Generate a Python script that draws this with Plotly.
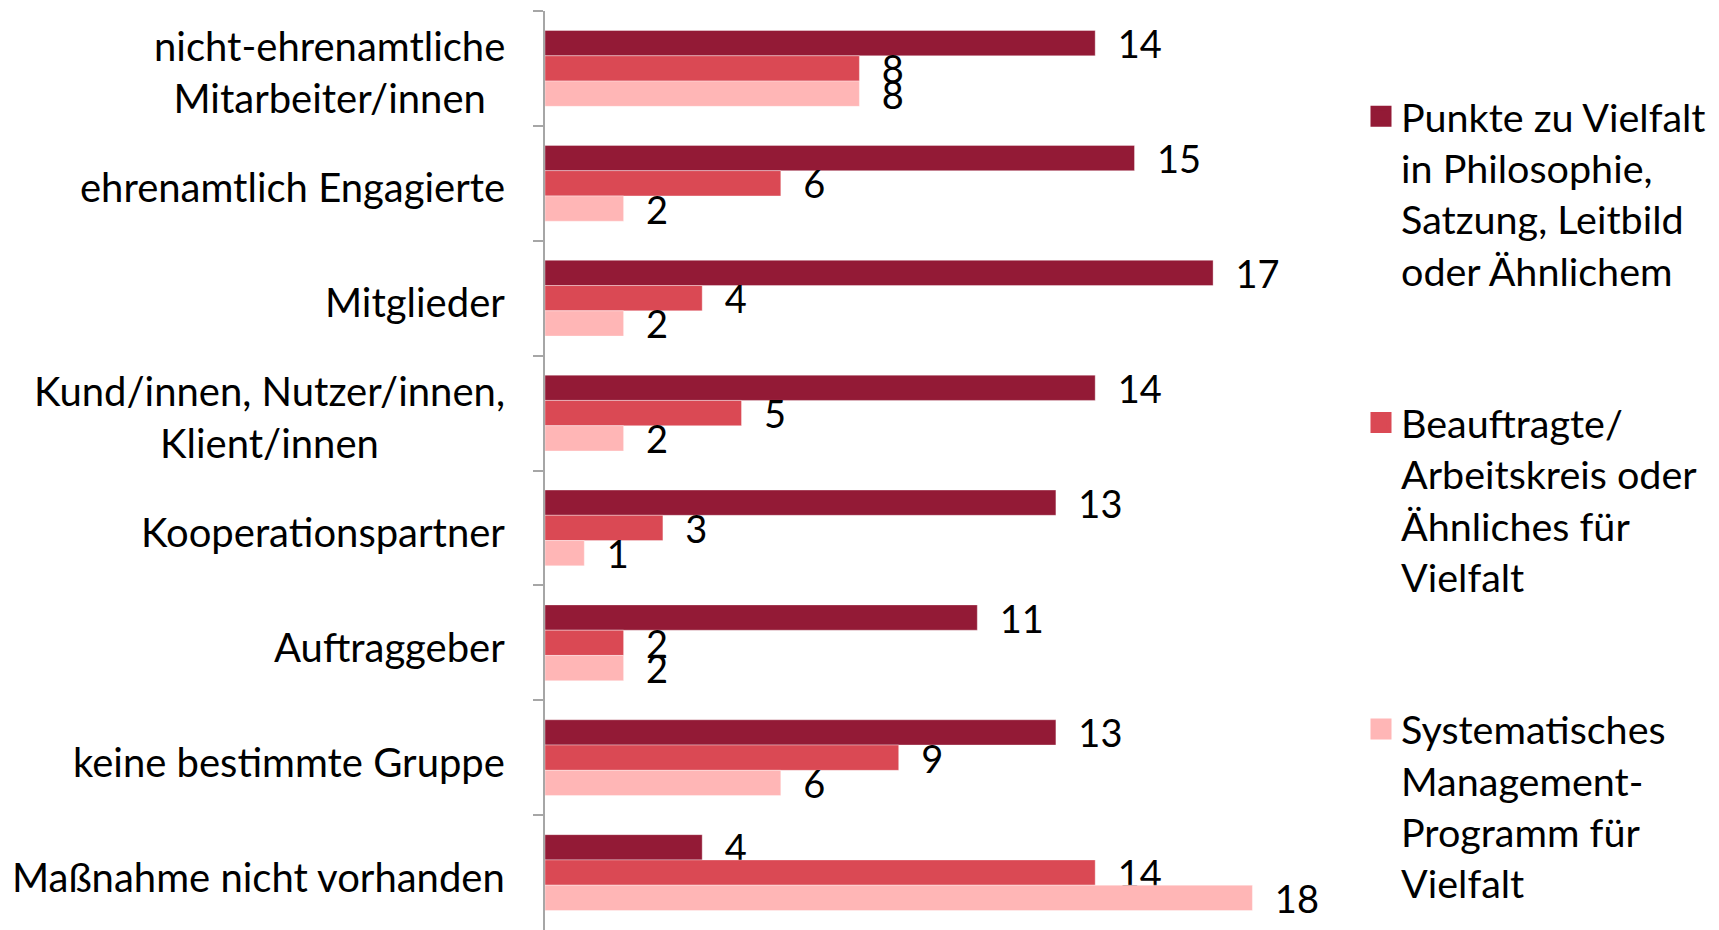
import plotly.graph_objects as go

categories = [
    "nicht-ehrenamtliche<br>Mitarbeiter/innen",
    "ehrenamtlich Engagierte",
    "Mitglieder",
    "Kund/innen, Nutzer/innen,<br>Klient/innen",
    "Kooperationspartner",
    "Auftraggeber",
    "keine bestimmte Gruppe",
    "Maßnahme nicht vorhanden",
]
series_names = [
    "Punkte zu Vielfalt<br>in Philosophie,<br>Satzung, Leitbild<br>oder Ähnlichem",
    "Beauftragte/<br>Arbeitskreis oder<br>Ähnliches für<br>Vielfalt",
    "Systematisches<br>Management-<br>Programm für<br>Vielfalt",
]
punkte = [14, 15, 17, 14, 13, 11, 13, 4]
beauftragte = [8, 6, 4, 5, 3, 2, 9, 14]
systematisch = [8, 2, 2, 2, 1, 2, 6, 18]
colors = ["#931A36", "#DA4954", "#FFB6B6"]

FONT = "Lato"
W, H = 1719, 930
L, R, T, B = 545, 388, 11, 0

fig = go.Figure()
for i, (name, vals) in enumerate(zip(series_names, [punkte, beauftragte, systematisch])):
    fig.add_trace(go.Bar(
        y=categories, x=vals, name=name, orientation="h",
        marker=dict(color=colors[i], line=dict(width=0.6, color="rgba(255,255,255,0.6)")),
        text=vals, texttemplate="\u00a0\u00a0%{x}", textposition="outside",
        constraintext="none", cliponaxis=False,
        textfont=dict(family=FONT, size=38, color="black"),
        showlegend=False, legendgroup="g%d" % i,
    ))
# legend entries (larger square swatches)
for i, name in enumerate(series_names):
    fig.add_trace(go.Scatter(
        x=[None], y=[None], mode="markers", name=name,
        marker=dict(symbol="square", size=16, color=colors[i],
                    line=dict(width=5, color=colors[i])),
        legendgroup="g%d" % i, showlegend=True, hoverinfo="skip",
    ))

for c in categories:
    fig.add_annotation(
        xref="paper", x=0, yref="y", y=c, text=c, showarrow=False,
        xanchor="right", xshift=-38, yshift=-4, align="center",
        font=dict(family=FONT, size=40, color="black"),
    )

fig.update_layout(
    width=W, height=H,
    margin=dict(l=L, r=R, t=T, b=B, autoexpand=False),
    paper_bgcolor="white", plot_bgcolor="white",
    barmode="group", bargap=0.34, bargroupgap=0,
    showlegend=True,
    legend=dict(
        x=(1361 - L) / (W - L - R), xanchor="left",
        y=1 - (84 - T) / (H - T - B), yanchor="top",
        font=dict(family=FONT, size=39.5, color="black"),
        traceorder="grouped", tracegroupgap=98, valign="top",
        bgcolor="rgba(0,0,0,0)",
    ),
    xaxis=dict(visible=False, range=[0, 20]),
    yaxis=dict(
        autorange="reversed", showticklabels=False,
        showline=True, linecolor="#A6A6A6", linewidth=2,
        ticks="outside", tickson="boundaries", ticklen=10, tickcolor="#A6A6A6", tickwidth=2,
        showgrid=False, zeroline=False,
    ),
    font=dict(family=FONT, size=38),
)

fig.write_html("out.html")
